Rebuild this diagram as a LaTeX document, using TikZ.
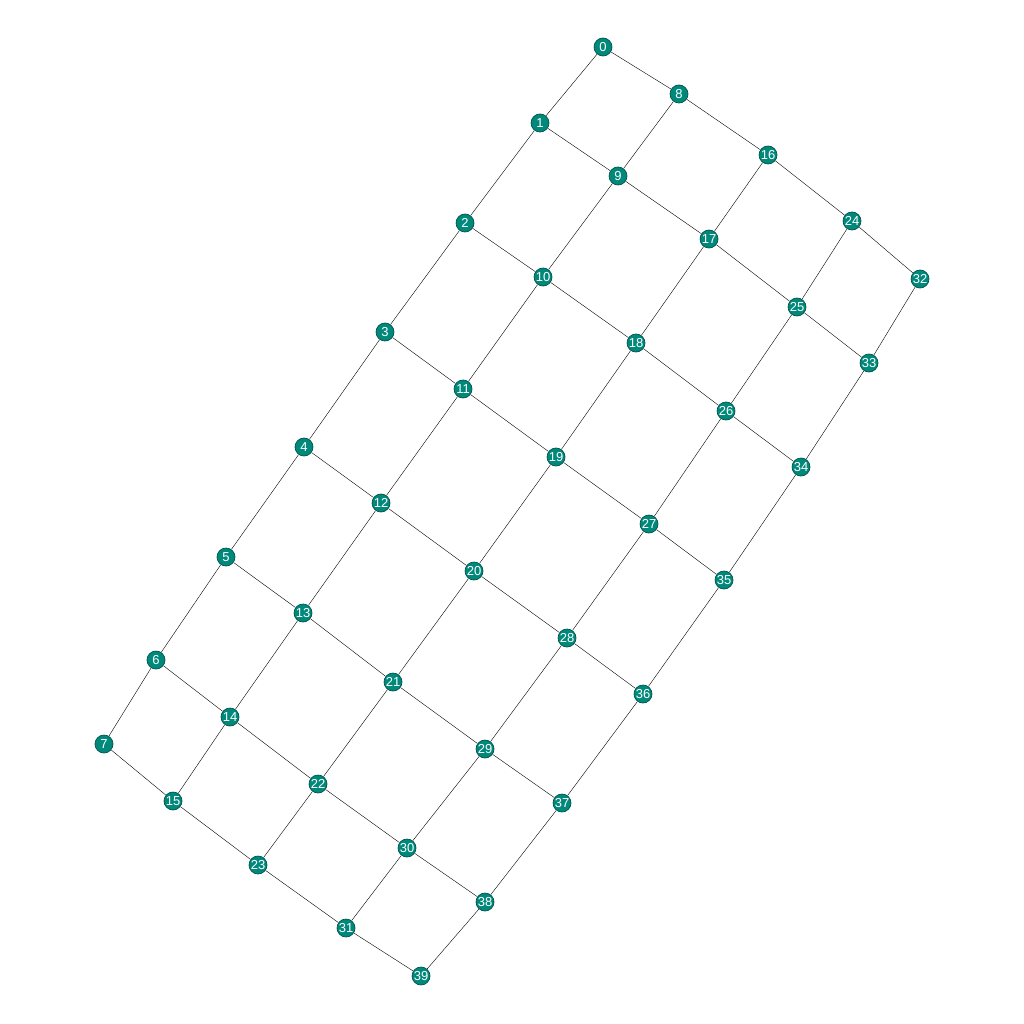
\documentclass[tikz,border=0pt]{standalone}
\usepackage{fontspec}
\setmainfont{Liberation Sans}
\usetikzlibrary{backgrounds}
\definecolor{vfill}{RGB}{0,137,123}
\definecolor{vline}{RGB}{0,85,76}
\tikzset{
  vertex/.style={circle, fill=vfill, draw=vline, line width=0.7pt, minimum size=18pt,
    inner sep=0pt, text=white, font=\fontsize{13}{14}\selectfont},
  link/.style={line width=1pt, black!85}
}
\begin{document}
\begin{tikzpicture}[x=1pt, y=-1pt]
      \useasboundingbox (0,0) rectangle (1024,1024);
      \draw
        (603,47) node[vertex] (0){0}
        (540,123) node[vertex] (1){1}
        (465,223) node[vertex] (2){2}
        (385,332) node[vertex] (3){3}
        (304,447) node[vertex] (4){4}
        (226,557) node[vertex] (5){5}
        (156,660) node[vertex] (6){6}
        (104,744) node[vertex] (7){7}
        (679,94) node[vertex] (8){8}
        (618,176) node[vertex] (9){9}
        (543,277) node[vertex] (10){10}
        (463,389) node[vertex] (11){11}
        (381,503) node[vertex] (12){12}
        (303,613) node[vertex] (13){13}
        (230,717) node[vertex] (14){14}
        (173,801) node[vertex] (15){15}
        (768,155) node[vertex] (16){16}
        (709,239) node[vertex] (17){17}
        (636,343) node[vertex] (18){18}
        (556,457) node[vertex] (19){19}
        (474,571) node[vertex] (20){20}
        (393,682) node[vertex] (21){21}
        (318,784) node[vertex] (22){22}
        (258,865) node[vertex] (23){23}
        (852,221) node[vertex] (24){24}
        (797,307) node[vertex] (25){25}
        (726,411) node[vertex] (26){26}
        (649,524) node[vertex] (27){27}
        (567,638) node[vertex] (28){28}
        (485,749) node[vertex] (29){29}
        (407,848) node[vertex] (30){30}
        (346,928) node[vertex] (31){31}
        (920,279) node[vertex] (32){32}
        (869,363) node[vertex] (33){33}
        (801,467) node[vertex] (34){34}
        (724,580) node[vertex] (35){35}
        (643,694) node[vertex] (36){36}
        (562,803) node[vertex] (37){37}
        (485,902) node[vertex] (38){38}
        (421,976) node[vertex] (39){39};
      \begin{scope}[on background layer, link]
        \foreach \c in {0,...,4}
          \foreach \r in {0,...,6} {
            \pgfmathtruncatemacro{\a}{8*\c+\r}
            \pgfmathtruncatemacro{\b}{8*\c+\r+1}
            \draw (\a) to (\b);
          }
        \foreach \c in {0,...,3}
          \foreach \r in {0,...,7} {
            \pgfmathtruncatemacro{\a}{8*\c+\r}
            \pgfmathtruncatemacro{\b}{8*\c+\r+8}
            \draw (\a) to (\b);
          }
      \end{scope}
    \end{tikzpicture}
\end{document}
